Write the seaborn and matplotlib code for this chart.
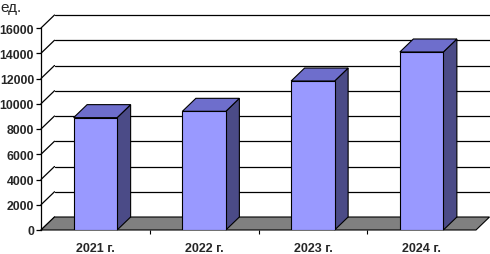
import matplotlib
matplotlib.use("Agg")
import matplotlib.pyplot as plt
import seaborn as sns
import pandas as pd
from matplotlib.patches import Polygon

years = ["2021 г.", "2022 г.", "2023 г.", "2024 г."]
values = [8900, 9400, 11800, 14100]
yticks = [0, 2000, 4000, 6000, 8000, 10000, 12000, 14000, 16000]
unit_label = "ед."

sns.set_theme(style="white")
plt.rcParams["font.family"] = ["Liberation Sans", "DejaVu Sans"]

W, H = 490, 255
fig = plt.figure(figsize=(W / 100, H / 100), dpi=100)
x0, x1, ytop, ybot = 41, 476, 29, 231
ax = fig.add_axes([x0 / W, 1 - ybot / H, (x1 - x0) / W, (ybot - ytop) / H])

df = pd.DataFrame({"year": years, "value": values})
sns.barplot(data=df, x="year", y="value", color="#9999FF", saturation=1,
            width=0.4, edgecolor="black", linewidth=0.8, ax=ax, zorder=5)

ax.set_xlim(-0.5, 3.5)
ax.set_ylim(0, 16000)
# depth offset in data units (pixels -> data)
dxp, dyp = 13.5, 13
dx = dxp * 4 / (x1 - x0)
dy = dyp * 16000 / (ybot - ytop)

# floor
floor = Polygon([(-0.5, 0), (3.5, 0), (3.5 + dx, dy), (-0.5 + dx, dy)],
                closed=True, facecolor="#808080", edgecolor="black",
                linewidth=0.8, clip_on=False, zorder=1)
ax.add_patch(floor)

# back-wall gridlines and left-wall diagonals
for t in yticks[1:]:
    ax.plot([-0.5 + dx, 3.5 + dx], [t + dy, t + dy], color="black",
            lw=0.9, clip_on=False, zorder=0.5)
for t in yticks:
    ax.plot([-0.5, -0.5 + dx], [t, t + dy], color="black",
            lw=0.9, clip_on=False, zorder=0.6)

# 3D faces for bars
for p in list(ax.patches):
    if p is floor:
        continue
    bx, bw, bh = p.get_x(), p.get_width(), p.get_height()
    side = Polygon([(bx + bw, 0), (bx + bw + dx, dy), (bx + bw + dx, bh + dy), (bx + bw, bh)],
                   closed=True, facecolor="#4B4B87", edgecolor="black",
                   linewidth=0.8, clip_on=False, zorder=4)
    top = Polygon([(bx, bh), (bx + bw, bh), (bx + bw + dx, bh + dy), (bx + dx, bh + dy)],
                  closed=True, facecolor="#6E6ECC", edgecolor="black",
                  linewidth=0.8, clip_on=False, zorder=4)
    ax.add_patch(side)
    ax.add_patch(top)

for s in ["top", "right", "bottom"]:
    ax.spines[s].set_visible(False)
ax.spines["left"].set_color("black")
ax.spines["left"].set_linewidth(0.9)
ax.set_yticks(yticks)
ax.set_yticklabels([str(t) for t in yticks], fontweight="bold", fontsize=8.8)
ax.tick_params(axis="y", left=True, length=3.5, width=0.9, color="black", pad=1.5)
ax.set_xticks([0.5, 1.5, 2.5], minor=True)
ax.tick_params(axis="x", which="major", length=0, pad=9, labelsize=9)
ax.tick_params(axis="x", which="minor", bottom=True, length=3, width=0.8, color="black")
for lbl in ax.get_xticklabels():
    lbl.set_fontweight("bold")
ax.set_xlabel("")
ax.set_ylabel("")
ax.grid(False)
ax.patch.set_alpha(0)

fig.text(0.0, 1 - 12 / H, unit_label, fontsize=11, ha="left", va="baseline")

fig.savefig("out.png", dpi=100)
